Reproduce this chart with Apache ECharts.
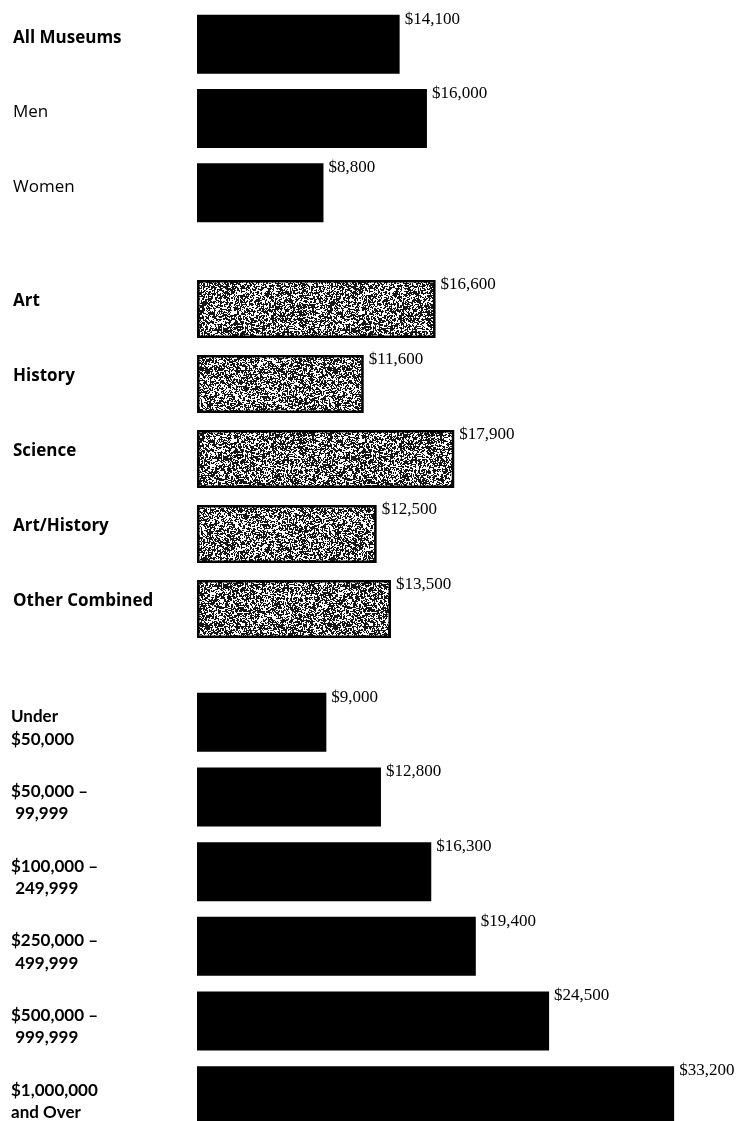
<!DOCTYPE html>
<html>
<head>
<meta charset="utf-8">
<script src="https://cdn.jsdelivr.net/npm/echarts@6/dist/echarts.min.js"></script>
<style>
  html, body { margin: 0; padding: 0; background: #ffffff; }
  #chart { width: 745px; height: 1121px; }
</style>
</head>
<body>
<div id="chart"></div>
<script>
// Average salaries, grouped: overall / by sex, by museum type, by annual budget
const overallCategories = ['All Museums', 'Men', 'Women'];
const overallValues = [14100, 16000, 8800];

const typeCategories = ['Art', 'History', 'Science', 'Art/History', 'Other Combined'];
const typeValues = [16600, 11600, 17900, 12500, 13500];

const budgetCategories = [
  'Under\n$50,000',
  '$50,000 –\n 99,999',
  '$100,000 –\n 249,999',
  '$250,000 –\n 499,999',
  '$500,000 –\n 999,999',
  '$1,000,000\nand Over'
];
const budgetValues = [9000, 12800, 16300, 19400, 24500, 33200];

// Category names set in the lighter weight
const lightCategories = ['Men', 'Women'];

// Stipple texture for the museum-type bars (deterministic hash noise)
function makeStipple() {
  const size = 128;
  const c = document.createElement('canvas');
  c.width = size; c.height = size;
  const ctx = c.getContext('2d');
  ctx.fillStyle = '#ffffff';
  ctx.fillRect(0, 0, size, size);
  ctx.fillStyle = '#151515';
  const hash = (x, y) => {
    const s = Math.sin(x * 12.9898 + y * 78.233) * 43758.5453;
    return s - Math.floor(s);
  };
  for (let y = 0; y < size; y++) {
    for (let x = 0; x < size; x++) {
      const h = hash(x, y);
      if (h < 0.26) {
        ctx.fillRect(x, y, 1, 1);
      } else if (h < 0.35) {
        ctx.fillRect(x, y, 2, 1);
      } else if (h < 0.42) {
        ctx.fillRect(x, y, 1, 2);
      } else if (h < 0.44) {
        ctx.fillRect(x, y, 2, 2);
      }
    }
  }
  return c;
}
const stipple = makeStipple();

const chart = echarts.init(document.getElementById('chart'), null, { renderer: 'canvas' });

const labelFont = "'Open Sans', 'Lato', sans-serif";
const numFont = "'Liberation Serif', 'DejaVu Serif', serif";
const budgetFont = "'Lato', 'Open Sans', sans-serif";

const grids = [
  { left: 197, right: 45, top: 7, height: 223, outerBoundsMode: 'none', containLabel: false },
  { left: 197, right: 45, top: 271.5, height: 375, outerBoundsMode: 'none', containLabel: false },
  { left: 197, right: 45, top: 685, height: 448, outerBoundsMode: 'none', containLabel: false }
];

function xAxisFor(i) {
  return { gridIndex: i, type: 'value', min: 0, max: 35000, show: false };
}

function yAxisFor(i, data, axisLabel) {
  return {
    gridIndex: i,
    type: 'category',
    inverse: true,
    data: data,
    axisLine: { show: false },
    axisTick: { show: false },
    splitLine: { show: false },
    axisLabel: axisLabel
  };
}

function valueLabel() {
  return {
    show: true,
    position: ['100%', 0],
    offset: [5, -4],
    color: '#000',
    fontFamily: numFont,
    fontSize: 17,
    formatter: p => '$' + p.value.toLocaleString('en-US')
  };
}

const baseName = { fontFamily: labelFont, fontSize: 17, color: '#000' };
const budgetName = { fontFamily: budgetFont, fontWeight: 'bold', fontSize: 17, color: '#000' };

chart.setOption({
  backgroundColor: '#ffffff',
  animation: false,
  grid: grids,
  xAxis: [xAxisFor(0), xAxisFor(1), xAxisFor(2)],
  yAxis: [
    yAxisFor(0, overallCategories, {
      align: 'left', margin: 184,
      formatter: v => (lightCategories.includes(v) ? '{n|' : '{b|') + v + '}',
      rich: {
        b: Object.assign({ fontWeight: 'bold', padding: [0, 0, 12, 0] }, baseName),
        n: Object.assign({ fontWeight: 'normal', padding: [0, 0, 12, 0] }, baseName)
      }
    }),
    yAxisFor(1, typeCategories, {
      align: 'left', margin: 184,
      formatter: v => '{b|' + v + '}',
      rich: {
        b: Object.assign({ fontWeight: 'bold', padding: [0, 0, 16, 0] }, baseName)
      }
    }),
    yAxisFor(2, budgetCategories, {
      align: 'left', margin: 186,
      formatter: v => {
        const lines = v.split('\n');
        return '{t|' + lines[0] + '}\n{b|' + lines[1] + '}';
      },
      rich: {
        t: Object.assign({ padding: [14, 0, 3, 0] }, budgetName),
        b: Object.assign({ lineHeight: 22 }, budgetName)
      }
    })
  ],
  series: [
    {
      type: 'bar', xAxisIndex: 0, yAxisIndex: 0,
      data: overallValues, barWidth: 59,
      itemStyle: { color: '#000' },
      label: valueLabel()
    },
    {
      type: 'bar', xAxisIndex: 1, yAxisIndex: 1,
      data: typeValues, barWidth: 58,
      itemStyle: {
        color: { image: stipple, repeat: 'repeat' },
        borderColor: '#000', borderWidth: 2.5
      },
      label: valueLabel()
    },
    {
      type: 'bar', xAxisIndex: 2, yAxisIndex: 2,
      data: budgetValues, barWidth: 59,
      itemStyle: { color: '#000' },
      label: valueLabel()
    }
  ]
});
</script>
</body>
</html>
